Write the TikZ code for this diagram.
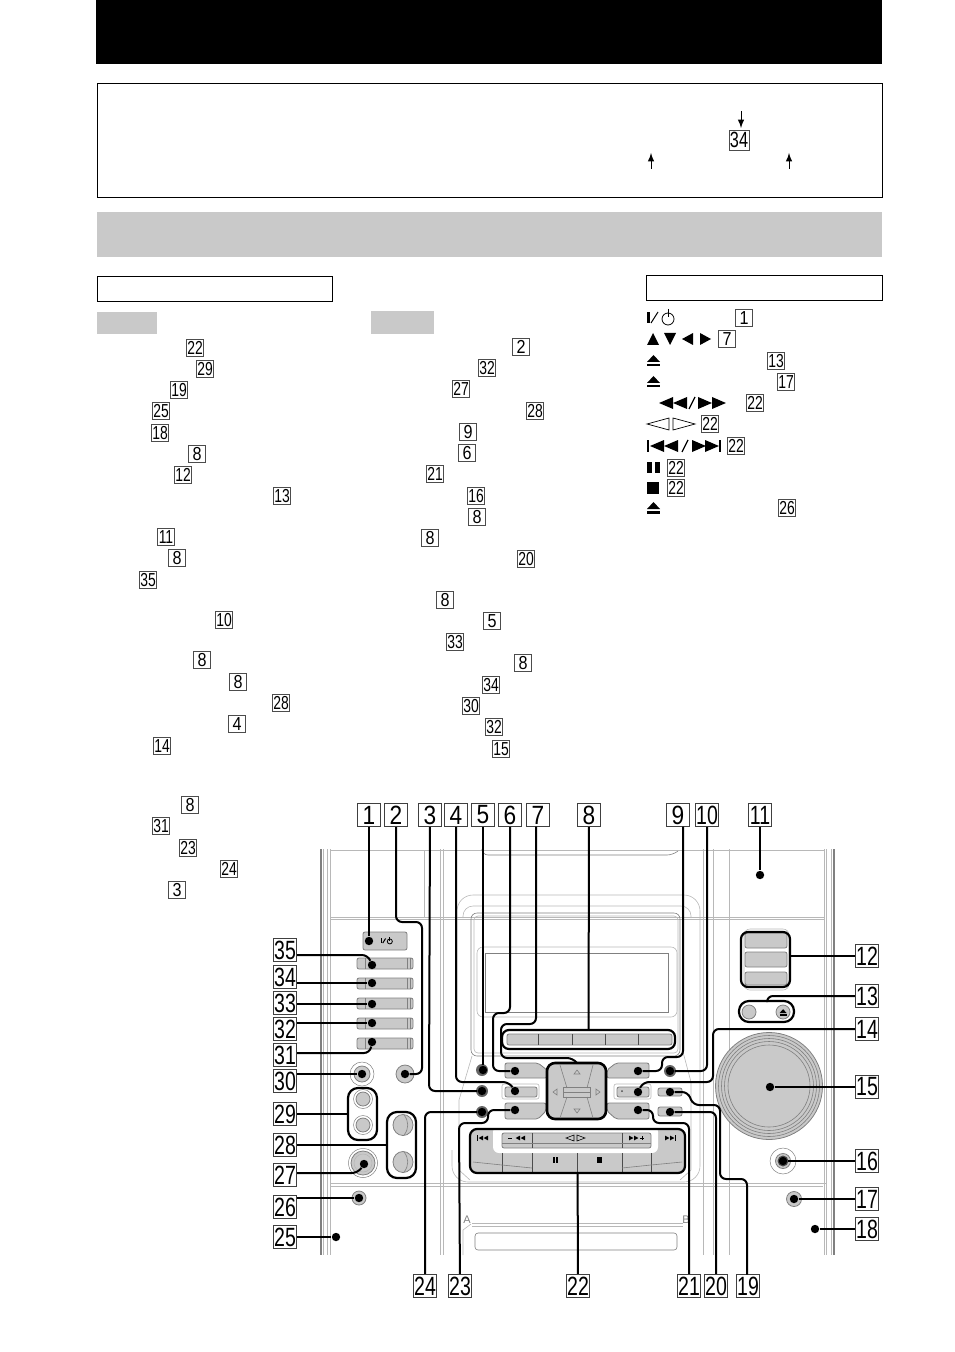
\documentclass[tikz,border=0pt]{standalone}
\usepackage{fontspec}
\usetikzlibrary{fit}
\setmainfont{Liberation Sans}
\newfontfamily\narrowfont[FakeStretch=0.74]{Liberation Sans}
\newfontfamily\slimfont[FakeStretch=0.86]{Liberation Sans}
\colorlet{panel gray}{black!21}
\colorlet{edge gray}{black!50}
\colorlet{faint gray}{black!28}
\tikzset{
  callout/.style={draw=black!75, fill=white, line width=.5pt, inner sep=0pt,
    minimum width=11.6pt, minimum height=11.6pt, font=\slimfont\fontsize{13.2}{13}\selectfont},
  calloutwide/.style={callout, font=\narrowfont\fontsize{13.2}{13}\selectfont},
  refbox/.style={draw=black!70, fill=white, line width=.45pt, inner sep=0pt,
    minimum width=8.6pt, minimum height=8.6pt, font=\slimfont\fontsize{9.4}{9}\selectfont},
  refwide/.style={refbox, font=\narrowfont\fontsize{9.4}{9}\selectfont},
  dotmark/.style={circle, fill=black, inner sep=0pt, minimum size=4.2pt},
  groupbox/.style={draw=black, line width=1.1pt, rounded corners=3.5pt, inner sep=0pt},
  lead/.style={draw=black, line width=1pt, rounded corners=3pt},
  devline/.style={draw=edge gray, line width=.3pt},
  devfaint/.style={draw=faint gray, line width=.3pt},
  keycap/.style={draw=edge gray, fill=panel gray, line width=.4pt, rounded corners=1pt},
  jack/.style={draw=edge gray, fill=panel gray, line width=.4pt},
  ring/.style={draw=edge gray, fill=white, line width=.25pt},
  wedgeR/.pic={\fill (0,-6) -- (11,0) -- (0,6) -- cycle;},
  wedgeL/.pic={\fill (0,-6) -- (-11,0) -- (0,6) -- cycle;},
  wedgeU/.pic={\fill (-6,6) -- (0,-6) -- (6,6) -- cycle;},
  wedgeD/.pic={\fill (-6,-6) -- (0,6) -- (6,-6) -- cycle;},
  ejectmark/.pic={\fill (0,1) -- (13,1) -- (6.5,-6) -- cycle; \fill (0,3) rectangle (13,5.5);},
  powermark/.pic={
    \fill (0,-6) rectangle (2.6,5);
    \draw[line width=.5pt] (4,5) -- (11,-6);
    \draw[line width=.4pt] (21,1) circle (6);
    \draw[line width=.4pt] (21,-9) -- (21,-1);},
  hollowtri/.pic={\draw[edge gray, line width=.3pt] (-3,2) -- (0,-2) -- (3,2) -- cycle;}
}
\tikzstyle{notearrow} = [draw, line width=.45pt, -latex]
\begin{document}
\begin{tikzpicture}[x=.5pt,y=-.5pt]
  \useasboundingbox (0,0) rectangle (954,1352);

  % page furniture
  \fill[black] (96,0) rectangle (882,64);
  \draw[line width=.5pt] (97,84) rectangle (882,198);
  \fill[panel gray] (97,212) rectangle (882,257);
  \draw[line width=.5pt] (97,277) rectangle (332,302);
  \draw[line width=.5pt] (646,276) rectangle (882,301);
  \fill[panel gray] (97,312) rectangle (157,334);
  \fill[panel gray] (371,311) rectangle (434,334);

  \node[refwide, minimum width=10pt, minimum height=10pt, font=\narrowfont\fontsize{11}{11}\selectfont] (note34) at (739,140) {34};
  \coordinate (noteA) at (741,111);
  \coordinate (noteB) at (741,128);
  \coordinate (noteC) at (651,169);
  \coordinate (noteD) at (651,153);
  \coordinate (noteE) at (789,169);
  \coordinate (noteF) at (789,153);
  \path[notearrow] (noteA) -- (noteB);
  \path[notearrow] (noteC) -- (noteD);
  \path[notearrow] (noteE) -- (noteF);

  % references, two columns and the symbol list
  \foreach \n/\x/\y [count=\k] in {8/197/454,8/177/558,8/202/660,8/238/682,4/237/724,8/190/805,3/177/890,
      2/521/347,9/468/432,6/467/453,8/477/517,8/430/538,8/445/600,5/492/621,8/523/663,
      1/744/318,7/727/339}
    \node[refbox] (rs\k) at (\x,\y) {\n};
  \foreach \n/\x/\y [count=\k] in {22/195/348,29/205/369,19/179/390,25/161/411,18/160/433,12/183/475,13/282/496,
      11/166/537,35/148/580,10/224/620,28/281/703,14/162/746,31/161/826,23/188/848,24/229/869,
      32/487/368,27/461/389,28/535/411,21/435/474,16/476/496,20/526/559,33/455/642,34/491/685,
      30/471/706,32/494/727,15/501/749,
      13/776/361,17/786/382,22/755/403,22/710/424,22/736/446,22/676/468,22/676/488,26/787/508}
    \node[refwide] (rw\k) at (\x,\y) {\n};

  % symbols of the list
  \pic at (647,318) {powermark};
  \pic at (653,339) {wedgeU};
  \pic at (670,339) {wedgeD};
  \pic at (693,339) {wedgeL};
  \pic at (700,339) {wedgeR};
  \pic at (647,361) {ejectmark};
  \pic at (647,382) {ejectmark};
  \pic at (647,508) {ejectmark};
  \pic[xscale=1.27] at (673,403) {wedgeL};
  \pic[xscale=1.27] at (687,403) {wedgeL};
  \draw[line width=.6pt] (689,409) -- (695,397);
  \pic[xscale=1.27] at (698,403) {wedgeR};
  \pic[xscale=1.27] at (712,403) {wedgeR};
  \draw[line width=.35pt] (647,424) -- (669,418) -- (669,430) -- cycle;
  \draw[line width=.35pt] (695,424) -- (673,418) -- (673,430) -- cycle;
  \fill (647,440) rectangle (649,452);
  \pic[xscale=1.27] at (664,446) {wedgeL};
  \pic[xscale=1.27] at (678,446) {wedgeL};
  \draw[line width=.6pt] (682,452) -- (688,440);
  \pic[xscale=1.27] at (692,446) {wedgeR};
  \pic[xscale=1.27] at (705,446) {wedgeR};
  \fill (719,440) rectangle (721,452);
  \fill (647,462) rectangle (652,473);
  \fill (655,462) rectangle (660,473);
  \fill (647,482) rectangle (659,494);

  % cabinet
  \foreach \x in {321,323,327,330,440,443,703,713,729,824,826,831,834}
    \draw[devfaint] (\x,849) -- (\x,1255);
  \draw[devfaint] (424,850) -- (424,918);
  \draw[edge gray, line width=.7pt] (321,849) -- (321,1255);
  \draw[edge gray, line width=.7pt] (834,849) -- (834,1255);
  \draw[devfaint] (330,850) -- (824,850);
  \draw[devfaint] (330,917) -- (824,917);
  \draw[devfaint] (330,919) -- (824,919);
  \draw[devfaint] (330,1183) -- (826,1183);
  \draw[devfaint] (330,1186) -- (823,1186);
  \draw[devline, rounded corners=3pt] (482,851) -- (482,855) -- (673,855) -- (678,851);
  \draw[devfaint, rounded corners=8pt] (457,1010) -- (457,895) -- (700,895) -- (700,1182) -- (452,1182) -- (452,1150);
  \draw[devfaint, rounded corners=5pt] (463,918) -- (463,906) -- (691,906) -- (691,918);
  \draw[devline, rounded corners=3pt] (471,913) rectangle (680,1056);
  \draw[devfaint, rounded corners=2pt] (474,916) rectangle (678,1053);
  \draw[devfaint, rounded corners=3pt] (477,947) rectangle (677,1017);
  \draw[devline] (485,953) rectangle (668,1012);
  \draw[devfaint] (472,1056) -- (459,1100) -- (459,1170) -- (470,1180);
  \draw[devfaint] (683,1052) -- (691,1082) -- (691,1170) -- (680,1180);

  % cassette door
  \draw[devfaint] (472,1223) -- (683,1223);
  \draw[devfaint] (472,1226) -- (683,1226);
  \draw[devline, rounded corners=1.5pt] (475,1233) rectangle (677,1250);
  \draw[devfaint] (463,1255) -- (463,1230) -- (471,1224);
  \node[text=edge gray, inner sep=0pt, font=\fontsize{5.5}{5}\selectfont] (doorA) at (467,1220) {A};
  \node[text=edge gray, inner sep=0pt, font=\fontsize{5.5}{5}\selectfont] (doorB) at (686,1220) {B};

  % left side keys and jacks
  \draw[keycap] (363,932) rectangle (407,950);
  \pic[scale=.42] at (381,941) {powermark};
  \foreach \y in {958,978,998,1018,1038} {
    \draw[keycap] (357,\y) rectangle (413,\y+11);
    \draw[devline] (365,\y) -- (365,\y+11);
    \draw[devline] (407,\y) -- (407,\y+11);
    \draw[devline] (410,\y) -- (410,\y+11);
  }
  \draw[ring] (362,1074) circle (12);
  \draw[jack] (362,1074) circle (8);
  \draw[jack] (405,1074) circle (9);
  \draw[ring] (363,1099) circle (9.5);
  \draw[jack] (363,1099) circle (7);
  \draw[ring] (363,1125) circle (9.5);
  \draw[jack] (363,1125) circle (7);
  \draw[ring] (363,1163) circle (14.5);
  \draw[jack] (363,1163) circle (12);
  \draw[devfaint] (363,1163) circle (9);
  \draw[jack] (403,1125) ellipse (10 and 10.5);
  \draw[jack] (403,1162) ellipse (10 and 10.5);
  \draw[devline] (404,1115) .. controls (409,1121) and (409,1129) .. (404,1135);
  \draw[devline] (404,1152) .. controls (409,1158) and (409,1166) .. (404,1172);
  \draw[jack] (359,1198) circle (7);

  % row of five keys
  \draw[keycap] (507,1034) rectangle (672,1045);
  \foreach \x in {538,572,605,638}
    \draw[black!70, line width=.45pt] (\x,1034) -- (\x,1045);

  % keys around the pad
  \draw[keycap] (505,1063) -- (538,1063) -- (547,1070) -- (547,1078) -- (505,1078) -- cycle;
  \draw[keycap] (649,1063) -- (616,1063) -- (607,1070) -- (607,1078) -- (649,1078) -- cycle;
  \draw[keycap] (505,1103) -- (546,1103) -- (546,1111) -- (538,1119) -- (505,1119) -- cycle;
  \draw[keycap] (649,1103) -- (607,1103) -- (607,1111) -- (616,1119) -- (649,1119) -- cycle;
  \draw[devfaint, rounded corners=1pt] (502,1084) rectangle (539,1099);
  \draw[keycap] (505,1087) rectangle (537,1097);
  \draw[devfaint, rounded corners=1pt] (614,1084) rectangle (651,1099);
  \draw[keycap] (617,1087) rectangle (649,1097);
  \fill[black!70] (622,1091) circle (1);
  \draw[keycap] (658,1088) rectangle (682,1096);
  \draw[keycap] (658,1107) rectangle (682,1116);
  \foreach \y in {1070,1091,1112}
    \fill[black!60] (482,\y) circle (6);
  \fill[black!60] (670,1071) circle (6);

  % pad
  \draw[fill=panel gray, line width=1.3pt, rounded corners=4pt] (547,1063) rectangle (606,1119);
  \draw[devline] (560,1065) -- (567,1088);
  \draw[devline] (593,1065) -- (587,1088);
  \draw[devline] (560,1118) -- (567,1097);
  \draw[devline] (593,1118) -- (587,1097);
  \draw[devline] (563,1087) rectangle (590,1097);
  \draw[devline] (563,1092) -- (590,1092);
  \pic at (577,1072) {hollowtri};
  \pic at (577,1111) [rotate=180] {hollowtri};
  \pic at (555,1092) [rotate=90] {hollowtri};
  \pic at (598,1092) [rotate=-90] {hollowtri};

  % transport keys
  \fill[panel gray, rounded corners=4pt] (470,1129) rectangle (685,1173);
  \fill[white, rounded corners=3pt] (493,1126) -- (493,1153) -- (658,1153) -- (658,1126) -- cycle;
  \draw[keycap] (502,1133) -- (651,1133) -- (651,1148) -- (502,1148) -- cycle;
  \foreach \x in {532,622}
    \draw[black!70, line width=.4pt] (\x,1133) -- (\x,1148);
  \draw[devline] (502,1143) -- (651,1143);
  \foreach \x in {502,532,577,622,651}
    \draw[black!70, line width=.4pt] (\x,1153) -- (\x,1172);
  \draw[devline] (473,1162) -- (502,1165);
  \draw[devline] (532,1168) -- (502,1165);
  \draw[devline] (682,1162) -- (651,1165);
  \draw[devline] (622,1168) -- (651,1165);
  \fill (477,1135) rectangle (478,1141);
  \pic[scale=.4] at (483,1138) {wedgeL};
  \pic[scale=.4] at (488,1138) {wedgeL};
  \pic[scale=.4] at (520,1138) {wedgeL};
  \pic[scale=.4] at (525,1138) {wedgeL};
  \draw[line width=.35pt] (508,1138) -- (512,1138);
  \draw[line width=.3pt] (566,1138) -- (574,1135) -- (574,1141) -- cycle;
  \draw[line width=.3pt] (585,1138) -- (577,1135) -- (577,1141) -- cycle;
  \pic[scale=.4] at (629,1138) {wedgeR};
  \pic[scale=.4] at (634,1138) {wedgeR};
  \draw[line width=.3pt] (640,1138) -- (644,1138) (642,1136) -- (642,1140);
  \pic[scale=.4] at (665,1138) {wedgeR};
  \pic[scale=.4] at (670,1138) {wedgeR};
  \fill (675,1135) rectangle (676,1141);
  \fill (553,1157) rectangle (554.5,1163);
  \fill (556,1157) rectangle (557.5,1163);
  \fill (597,1157) rectangle (602,1163);

  % right side
  \draw[keycap] (745,933) rectangle (787,948);
  \draw[keycap] (745,952) rectangle (787,967);
  \draw[keycap] (745,972) rectangle (787,985);
  \draw[devfaint, rounded corners=3pt] (744,929) rectangle (789,990);
  \draw[jack] (749,1012) circle (7);
  \draw[jack] (783,1012) circle (7);
  \pic[scale=.55] at (779.5,1012.5) {ejectmark};
  \draw[jack] (769,1086) circle (53.5);
  \draw[edge gray, line width=.3pt] (769,1086) circle (50.5);
  \draw[edge gray, line width=.3pt] (769,1086) circle (47.5);
  \draw[edge gray, line width=.3pt] (769,1086) circle (44.5);
  \draw[edge gray, line width=.3pt] (769,1086) circle (41);
  \draw[ring] (783,1161) circle (13);
  \draw[jack] (783,1161) circle (7.5);
  \fill[black!70] (783,1161) circle (5.5);
  \draw[jack] (794,1199) circle (7.5);

  % outlines the leads end on
  \node[groupbox, fit={(502,1030) (675,1049)}] (g8) {};
  \node[groupbox, fit={(741,932) (790,987)}] (g12) {};
  \node[groupbox, rounded corners=5pt, fit={(739,1001) (794,1022)}] (g13) {};
  \node[groupbox, fit={(470,1129) (685,1173)}] (g22) {};
  \node[groupbox, rounded corners=5pt, fit={(387,1112) (416,1178)}] (g28) {};
  \node[groupbox, rounded corners=5pt, fit={(348,1088) (377,1140)}] (g29) {};
  \coordinate (g7) at (577,1063);

  % dots
  \foreach \n/\x/\y in {1/369/941,2/405/1074,3/482/1091,4/515/1091,5/483/1070,6/515/1071,
      9/638/1071,10/670/1071,11/760/875,14/638/1092,15/770/1087,16/783/1161,17/794/1199,18/815/1229,
      19/670/1092,20/670/1112,21/638/1110,23/515/1110,24/482/1112,25/336/1237,26/359/1198,27/364/1164,
      30/362/1074,31/372/1042,32/372/1023,33/372/1004,34/372/983,35/372/965}
    \node[dotmark] (d\n) at (\x,\y) {};

  % callouts
  \foreach \n/\x/\y in {1/369/815,2/396/815,3/430/815,4/456/815,5/483/815,6/510/815,7/538/815,8/589/815,9/678/815}
    \node[callout] (c\n) at (\x,\y) {\n};
  \foreach \n/\x/\y in {10/707/815,11/760/815,
      12/867/956,13/867/996,14/867/1029,15/867/1087,16/867/1161,17/867/1199,18/867/1229,
      19/748/1286,20/716/1286,21/689/1286,22/578/1286,23/460/1286,24/425/1286,
      25/285/1237,26/285/1207,27/285/1175,28/285/1145,29/285/1114,30/285/1081,
      31/285/1055,32/285/1029,33/285/1003,34/285/977,35/285/950}
    \node[calloutwide] (c\n) at (\x,\y) {\n};

  % leads
  \path[lead] (c1) -- (d1);
  \path[lead] (c2) -- (396,922) -- (422,922) -- (422,1074) -- (d2);
  \path[lead] (c3) -- (429,1091) -- (d3);
  \path[lead] (c4) -- (456,1082) -- (509,1082) -- (d4);
  \path[lead] (c5) -- (d5);
  \path[lead] (c6.south) -- (510,1013) -- (493,1013) -- (493,1071) -- (d6);
  \path[lead] (536,826.500) -- (536,1024) -- (501,1024) -- (501,1058) -- (573,1058) -- (g7);
  \path[lead] (c8) -- (g8);
  \path[lead] (683,826.500) -- (683,1057) -- (662,1057) -- (662,1071) -- (d9);
  \path[lead] (c10) -- (707,1071) -- (d10);
  \path[lead] (c11) -- (d11);
  \path[lead] (c12) -- (g12.east |- c12);
  \path[lead] (c13) -- (767,996) -- (767,1001);
  \path[lead] (c14) -- (713,1029) -- (713,1082) -- (643,1082) -- (d14);
  \path[lead] (c15) -- (d15);
  \path[lead] (c16) -- (d16);
  \path[lead] (c17) -- (d17);
  \path[lead] (c18) -- (d18);
  \path[lead] (747,1274.500) -- (747,1179) -- (720,1179) -- (720,1105) -- (693,1105) -- (688,1092) -- (d19);
  \path[lead] (c20) -- (716,1112) -- (d20);
  \path[lead] (c21) -- (689,1123) -- (653,1123) -- (653,1110) -- (d21);
  \path[lead] (c22) -- (g22);
  \path[lead] (c23) -- (459,1123) -- (488,1123) -- (488,1110) -- (d23);
  \path[lead] (c24) -- (425,1112) -- (d24);
  \path[lead] (c25) -- (d25);
  \path[lead] (c26.east |- d26) -- (d26);
  \path[lead] (c27.east |- 358,1173) -- (358,1173) -- (d27);
  \path[lead] (c28) -- (g28.west |- c28);
  \path[lead] (c29) -- (g29.west |- c29);
  \path[lead] (c30.east |- d30) -- (d30);
  \path[lead] (c31.east |- 370,1053) -- (370,1053) -- (d31);
  \path[lead] (c32.east |- d32) -- (d32);
  \path[lead] (c33.east |- d33) -- (d33);
  \path[lead] (c34.east |- d34) -- (d34);
  \path[lead] (c35.east |- 368,955) -- (368,955) -- (d35);
\end{tikzpicture}
\end{document}
